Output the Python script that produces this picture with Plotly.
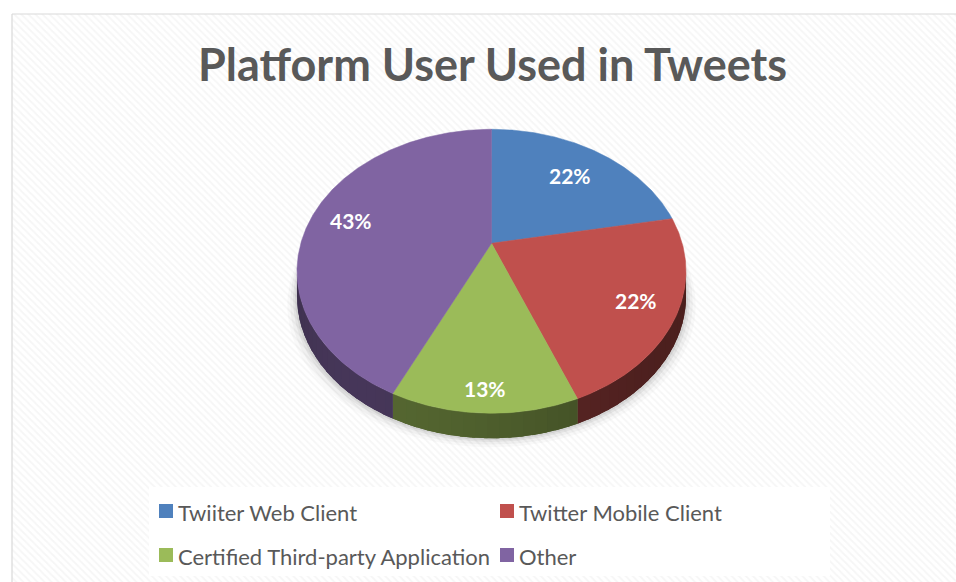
import math
import plotly.graph_objects as go

# ---- data ----
categories = ["Twiiter Web Client", "Twitter Mobile Client",
              "Certified Third-party Application", "Other"]
values = [22, 22, 13, 43]
colors = ["#4f81bd", "#c0504d", "#9bbb59", "#8064a2"]
title_text = "Platform User Used in Tweets"

# ---- geometry / style (pixel space: x 0..956, y 0..582 downwards) ----
W, H = 956, 582
CX, CY = 491.5, 243.3      # projected pie centre (vertex)
RX, RY = 190.7, 136.5      # radii
K = 0.197                  # perspective strength
DEPTH = 25                 # thickness of the pie
label_r = [0.72, 0.80, 0.88, 0.78]
FONT = "Lato"
TXT = "#595959"


def proj(theta_deg, r=1.0, dz=0.0):
    t = math.radians(theta_deg)
    X, Y = r * math.cos(t), r * math.sin(t)
    d = 1 + K * Y
    return CX + RX * X / d, CY - RY * Y / d + dz


def arc(a, b, dz=0.0, step=1.0):
    n = max(2, int(abs(b - a) / step) + 1)
    pts = [proj(a + (b - a) * i / (n - 1), 1.0, dz) for i in range(n)]
    return [p[0] for p in pts], [p[1] for p in pts]


def shade(hexc, f):
    r, g, b = int(hexc[1:3], 16), int(hexc[3:5], 16), int(hexc[5:7], 16)
    return "rgb(%d,%d,%d)" % (r * f, g * f, b * f)


def side_factor(t):
    c = math.cos(math.radians(t + 125))
    return 0.40 + 0.15 * (c * c if c > 0 else 0)


fig = go.Figure()

# background hatched chart area
fig.add_trace(go.Scatter(
    x=[12, 970, 970, 12, 12], y=[14, 14, 600, 600, 14], mode="lines",
    fill="toself", fillcolor="white",
    fillpattern=dict(shape="\\", fgcolor="#ededed", bgcolor="white",
                     size=5, solidity=0.35),
    line=dict(color="#d9d9d9", width=1.2), hoverinfo="skip"))

# slice angles (start at 12 o'clock, clockwise)
total = sum(values)
angles = []
start = 90.0
for v in values:
    end = start - 360.0 * v / total
    angles.append((start, end))
    start = end

# soft shadow under the pie
for grow, alpha in [(10, 0.025), (7, 0.035), (4, 0.05), (2, 0.06)]:
    xs, ys = [], []
    for j in range(181):
        th = -90 + 360 * j / 180
        x, y = proj(th, 1.0, DEPTH)
        xs.append(CX + (x - CX) * (1 + grow / 200.0))
        ys.append(y + grow * 0.9)
    fig.add_trace(go.Scatter(x=xs, y=ys, mode="lines", fill="toself",
                             fillcolor="rgba(0,0,0,%.3f)" % alpha,
                             line=dict(width=0), hoverinfo="skip"))

# visible side (front) between the silhouette points
sil_r = -math.degrees(math.asin(K))          # right silhouette (~ -11.4)
sil_l = -180 - sil_r                         # left silhouette  (~ -168.6)
for (a, b), col in zip(angles, colors):
    s_hi, s_lo = min(a, sil_r), max(b, sil_l)
    if s_hi <= s_lo:
        continue
    # solid base of the side
    xt, yt = arc(s_hi, s_lo, 0, 0.5)
    xb, yb = arc(s_lo, s_hi, DEPTH, 0.5)
    base = shade(col, side_factor((s_hi + s_lo) / 2))
    fig.add_trace(go.Scatter(
        x=xt + xb + [xt[0]], y=yt + yb + [yt[0]], mode="lines",
        fill="toself", fillcolor=base, line=dict(width=0), hoverinfo="skip"))
    # gentle shading on top of the base
    step = 3.0
    n = max(1, int(math.ceil((s_hi - s_lo) / step)))
    for i in range(n):
        t0 = s_hi - (s_hi - s_lo) * i / n
        t1 = s_hi - (s_hi - s_lo) * (i + 1) / n
        t0e = min(s_hi, t0 + 0.8)
        f = side_factor((t0 + t1) / 2)
        xt, yt = arc(t0e, t1, 0, 0.5)
        xb, yb = arc(t1, t0e, DEPTH, 0.5)
        fig.add_trace(go.Scatter(
            x=xt + xb + [xt[0]], y=yt + yb + [yt[0]], mode="lines",
            fill="toself", fillcolor=shade(col, f),
            line=dict(width=0), hoverinfo="skip"))

# top faces
for (a, b), col, cat in zip(angles, colors, categories):
    xa, ya = arc(a, b, 0, 0.5)
    fig.add_trace(go.Scatter(
        x=[CX] + xa + [CX], y=[CY] + ya + [CY], mode="lines",
        fill="toself", fillcolor=col, line=dict(width=0.5, color=col),
        name=cat, hoverinfo="name"))

annotations = []
# percentage labels
for (a, b), v, r in zip(angles, values, label_r):
    x, y = proj((a + b) / 2, r)
    annotations.append(dict(
        x=x, y=y, xref="x", yref="y", showarrow=False,
        text="<b>%d%%</b>" % round(100.0 * v / total),
        font=dict(family=FONT, size=21, color="white")))

# title
annotations.append(dict(
    x=492, y=64, xref="x", yref="y", showarrow=False,
    text="<b>%s</b>" % title_text,
    font=dict(family=FONT, size=45, color=TXT)))

# legend (box, swatches, text)
shapes = [dict(type="rect", xref="x", yref="y", x0=149, x1=830, y0=487, y1=576,
               fillcolor="white", line=dict(width=0), layer="above")]
leg_pos = [(159, 511), (500, 511), (159, 555), (500, 555)]
for (lx, ly), col, cat in zip(leg_pos, colors, categories):
    shapes.append(dict(type="rect", xref="x", yref="y", x0=lx, x1=lx + 14,
                       y0=ly - 7, y1=ly + 7, fillcolor=col,
                       line=dict(width=0), layer="above"))
    annotations.append(dict(
        x=lx + 17, y=ly + 1, xref="x", yref="y", showarrow=False,
        xanchor="left", yanchor="middle", text=cat,
        font=dict(family=FONT, size=22, color=TXT)))

fig.update_layout(
    width=W, height=H, margin=dict(l=0, r=0, t=0, b=0),
    paper_bgcolor="white", plot_bgcolor="white", showlegend=False,
    xaxis=dict(range=[0, W], visible=False, fixedrange=True),
    yaxis=dict(range=[H, 0], visible=False, fixedrange=True),
    annotations=annotations, shapes=shapes)

fig.write_html("out.html")
